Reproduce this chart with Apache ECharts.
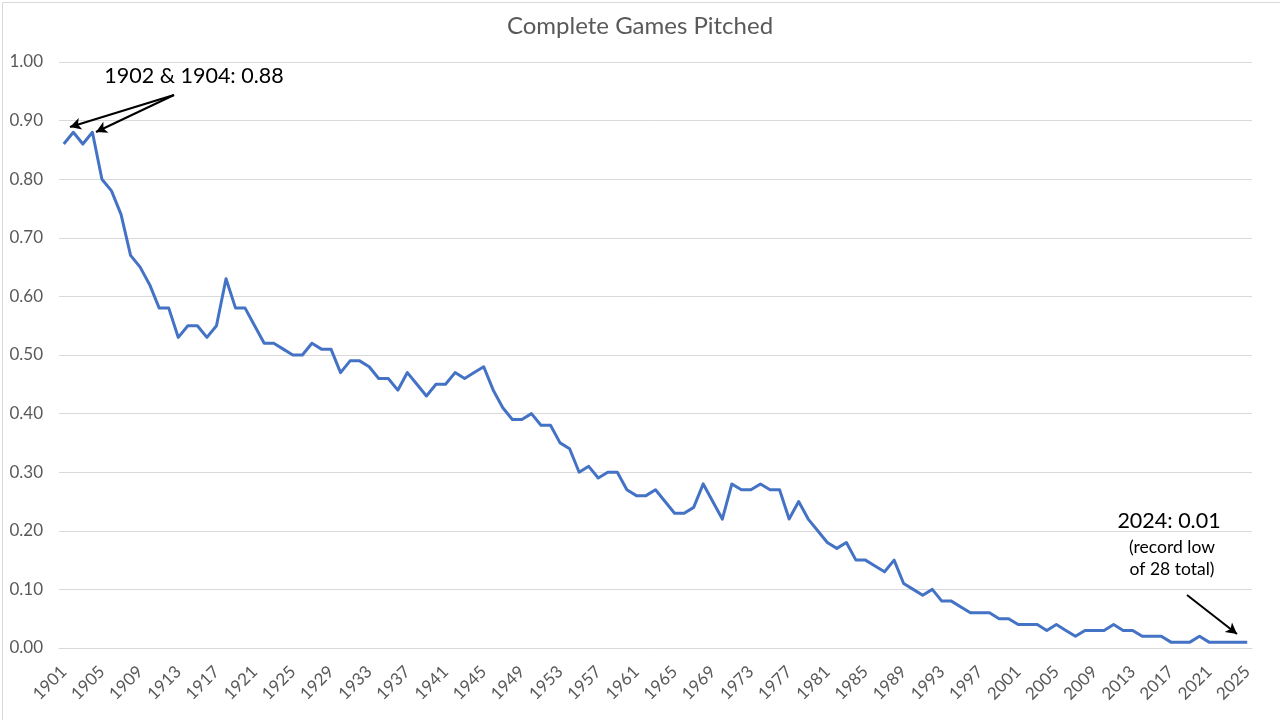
<!DOCTYPE html>
<html>
<head>
<meta charset="utf-8">
<script src="https://cdn.jsdelivr.net/npm/echarts@6/dist/echarts.min.js"></script>
<style>
html,body{margin:0;padding:0;background:#fff;}
#chart{width:1280px;height:720px;}
</style>
</head>
<body>
<div id="chart"></div>
<script>
// Categories: seasons 1901..2025
const firstYear = 1901;
const lastYear = 2025;
const years = [];
for (let y = firstYear; y <= lastYear; y++) years.push(String(y));

// Complete games per team game
const vals1901to1925 = [0.86,0.88,0.86,0.88,0.80,0.78,0.74,0.67,0.65,0.62,
                        0.58,0.58,0.53,0.55,0.55,0.53,0.55,0.63,0.58,0.58,
                        0.55,0.52,0.52,0.51,0.50];
const vals1926to1950 = [0.50,0.52,0.51,0.51,0.47,0.49,0.49,0.48,0.46,0.46,
                        0.44,0.47,0.45,0.43,0.45,0.45,0.47,0.46,0.47,0.48,
                        0.44,0.41,0.39,0.39,0.40];
const vals1951to1975 = [0.38,0.38,0.35,0.34,0.30,0.31,0.29,0.30,0.30,0.27,
                        0.26,0.26,0.27,0.25,0.23,0.23,0.24,0.28,0.25,0.22,
                        0.28,0.27,0.27,0.28,0.27];
const vals1976to2000 = [0.27,0.22,0.25,0.22,0.20,0.18,0.17,0.18,0.15,0.15,
                        0.14,0.13,0.15,0.11,0.10,0.09,0.10,0.08,0.08,0.07,
                        0.06,0.06,0.06,0.05,0.05];
const vals2001to2025 = [0.04,0.04,0.04,0.03,0.04,0.03,0.02,0.03,0.03,0.03,
                        0.04,0.03,0.03,0.02,0.02,0.02,0.01,0.01,0.01,0.02,
                        0.01,0.01,0.01,0.01,0.01];
const completeGames = [].concat(vals1901to1925, vals1926to1950, vals1951to1975, vals1976to2000, vals2001to2025);

const yTicks = {min: 0, max: 1, interval: 0.1};
const chartTitle = 'Complete Games Pitched';
const noteTop = '1902 & 1904: 0.88';
const noteLow = '2024: 0.01';
const noteLowSub = ['(record low', 'of 28 total)'];

const FONT = 'Lato, "Open Sans", sans-serif';
const chart = echarts.init(document.getElementById('chart'), null, {renderer: 'canvas'});

chart.setOption({
  animation: false,
  backgroundColor: '#ffffff',
  title: {
    text: chartTitle,
    left: 'center',
    top: 9,
    textStyle: {fontFamily: FONT, fontSize: 24, fontWeight: 'normal', color: '#595959'}
  },
  grid: {left: 59, right: 28, top: 62, bottom: 72},
  xAxis: {
    type: 'category',
    data: years,
    boundaryGap: true,
    axisTick: {show: false},
    axisLine: {show: true, lineStyle: {color: '#d9d9d9', width: 1}},
    axisLabel: {
      interval: 3,
      rotate: 45,
      margin: 21,
      fontFamily: FONT,
      fontSize: 17,
      color: '#595959'
    },
    splitLine: {show: false}
  },
  yAxis: {
    type: 'value',
    min: yTicks.min,
    max: yTicks.max,
    interval: yTicks.interval,
    axisLine: {show: false},
    axisTick: {show: false},
    axisLabel: {
      margin: 16,
      fontFamily: FONT,
      fontSize: 17,
      color: '#595959',
      formatter: v => v.toFixed(2)
    },
    splitLine: {lineStyle: {color: '#d9d9d9', width: 1}}
  },
  series: [{
    type: 'line',
    data: completeGames,
    showSymbol: false,
    symbol: 'none',
    lineStyle: {color: '#4472C4', width: 3, join: 'round'},
    itemStyle: {color: '#4472C4'},
    markLine: {
      silent: true,
      symbol: ['none', 'arrow'],
      symbolSize: [9, 11],
      label: {show: false},
      lineStyle: {color: '#000000', width: 2, type: 'solid'},
      data: [
        [{x: 174, y: 95}, {x: 70, y: 127}],
        [{x: 174, y: 95}, {x: 96, y: 132}],
        [{x: 1187, y: 595}, {x: 1237, y: 634}]
      ]
    }
  }],
  graphic: [
    {type: 'rect', left: 0, top: 0, shape: {x: 0.5, y: 0.5, width: 1279, height: 719},
     style: {fill: 'none', stroke: '#d9d9d9', lineWidth: 1}, silent: true},
    {type: 'text', x: 194, y: 76,
     style: {text: noteTop, fontFamily: FONT, fontSize: 21.5, fill: '#000', align: 'center', verticalAlign: 'middle'}},
    {type: 'text', x: 1169, y: 521,
     style: {text: noteLow, fontFamily: FONT, fontSize: 21.5, fill: '#000', align: 'center', verticalAlign: 'middle'}},
    {type: 'text', x: 1172, y: 547,
     style: {text: noteLowSub[0], fontFamily: FONT, fontSize: 17.5, fill: '#000', align: 'center', verticalAlign: 'middle'}},
    {type: 'text', x: 1172, y: 569,
     style: {text: noteLowSub[1], fontFamily: FONT, fontSize: 17.5, fill: '#000', align: 'center', verticalAlign: 'middle'}}
  ]
});
</script>
</body>
</html>
